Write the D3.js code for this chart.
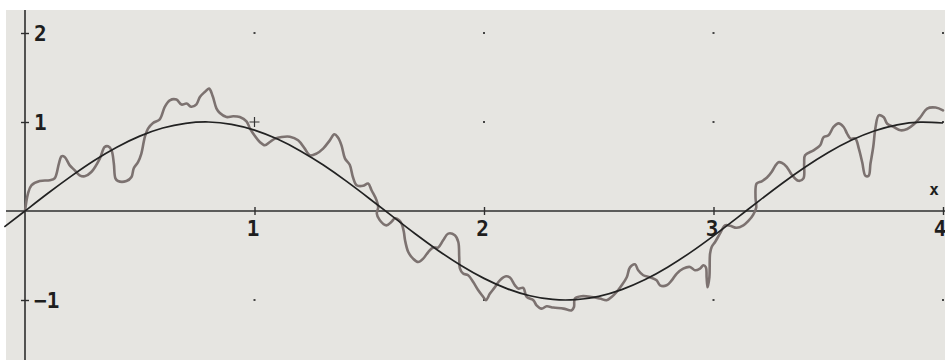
<!DOCTYPE html>
<html>
<head>
<meta charset="utf-8">
<script src="https://cdn.jsdelivr.net/npm/d3@7"></script>
<style>
  html, body { margin: 0; padding: 0; background: #ffffff; }
  svg { display: block; }
</style>
</head>
<body>
<svg id="chart" width="945" height="360"></svg>
<script>
// Measured trace (x, y) — a noisy path that wanders around the wave
const noiseX = [0, 0.013, 0.028, 0.064, 0.108, 0.129, 0.148, 0.159, 0.173, 0.195, 0.217, 0.238, 0.260, 0.289, 0.326, 0.347, 0.362, 0.377, 0.387, 0.394, 0.405, 0.442, 0.464, 0.474, 0.493, 0.507, 0.522, 0.536, 0.558, 0.587, 0.609, 0.631, 0.660, 0.682, 0.704, 0.725, 0.747, 0.762, 0.783, 0.802, 0.818, 0.834, 0.849, 0.878, 0.907, 0.936, 0.965, 0.980, 1.001, 1.023, 1.045, 1.067, 1.089, 1.118, 1.154, 1.190, 1.219, 1.241, 1.270, 1.299, 1.328, 1.348, 1.363, 1.379, 1.394, 1.415, 1.429, 1.445, 1.473, 1.495, 1.510, 1.532, 1.539, 1.533, 1.546, 1.575, 1.597, 1.612, 1.630, 1.642, 1.651, 1.656, 1.670, 1.691, 1.713, 1.735, 1.757, 1.779, 1.800, 1.822, 1.844, 1.873, 1.888, 1.892, 1.895, 1.909, 1.931, 1.953, 1.975, 1.997, 2.008, 2.026, 2.048, 2.069, 2.096, 2.113, 2.135, 2.149, 2.171, 2.186, 2.215, 2.229, 2.251, 2.273, 2.302, 2.346, 2.382, 2.392, 2.396, 2.425, 2.469, 2.505, 2.534, 2.556, 2.578, 2.600, 2.622, 2.636, 2.658, 2.672, 2.694, 2.723, 2.752, 2.767, 2.796, 2.818, 2.840, 2.868, 2.898, 2.919, 2.941, 2.956, 2.967, 2.970, 2.974, 2.982, 2.985, 2.992, 3.007, 3.028, 3.050, 3.072, 3.101, 3.130, 3.152, 3.174, 3.186, 3.183, 3.188, 3.210, 3.232, 3.254, 3.268, 3.283, 3.297, 3.319, 3.341, 3.370, 3.392, 3.395, 3.399, 3.436, 3.465, 3.479, 3.501, 3.523, 3.545, 3.567, 3.582, 3.597, 3.618, 3.633, 3.648, 3.662, 3.676, 3.684, 3.696, 3.706, 3.720, 3.742, 3.757, 3.786, 3.815, 3.844, 3.873, 3.902, 3.931, 3.968, 4.000];
const noiseY = [0, 0.196, 0.289, 0.337, 0.345, 0.367, 0.536, 0.615, 0.607, 0.513, 0.457, 0.401, 0.390, 0.438, 0.589, 0.719, 0.727, 0.682, 0.536, 0.367, 0.337, 0.337, 0.382, 0.480, 0.551, 0.645, 0.831, 0.926, 0.989, 1.030, 1.169, 1.244, 1.252, 1.196, 1.207, 1.171, 1.199, 1.281, 1.337, 1.375, 1.289, 1.154, 1.101, 1.056, 1.064, 1.056, 1.008, 0.929, 0.845, 0.775, 0.738, 0.775, 0.813, 0.831, 0.834, 0.794, 0.701, 0.626, 0.645, 0.701, 0.794, 0.862, 0.828, 0.738, 0.592, 0.519, 0.379, 0.289, 0.283, 0.308, 0.233, 0.120, 0.042, -0.029, -0.104, -0.161, -0.121, -0.082, -0.104, -0.149, -0.239, -0.329, -0.461, -0.535, -0.573, -0.535, -0.461, -0.411, -0.411, -0.329, -0.254, -0.273, -0.348, -0.517, -0.644, -0.703, -0.722, -0.798, -0.891, -0.966, -1.003, -0.928, -0.854, -0.779, -0.734, -0.748, -0.835, -0.872, -0.863, -0.966, -1.003, -1.060, -1.097, -1.071, -1.085, -1.097, -1.116, -1.079, -0.984, -0.958, -0.966, -0.984, -1.003, -0.966, -0.910, -0.835, -0.745, -0.633, -0.599, -0.666, -0.722, -0.745, -0.779, -0.835, -0.835, -0.779, -0.703, -0.647, -0.629, -0.666, -0.647, -0.610, -0.633, -0.745, -0.857, -0.745, -0.479, -0.404, -0.348, -0.254, -0.161, -0.166, -0.189, -0.161, -0.112, -0.037, 0.036, 0.157, 0.308, 0.334, 0.373, 0.440, 0.502, 0.547, 0.542, 0.497, 0.407, 0.339, 0.367, 0.533, 0.626, 0.682, 0.738, 0.828, 0.851, 0.944, 0.985, 0.944, 0.870, 0.813, 0.813, 0.704, 0.547, 0.396, 0.396, 0.533, 0.719, 0.940, 1.075, 1.053, 0.980, 0.944, 0.907, 0.921, 0.974, 1.056, 1.151, 1.162, 1.131];

// Smooth wave, sampled every 0.1
const waveX = [-0.09, 0, 0.1, 0.2, 0.3, 0.4, 0.5, 0.6, 0.7, 0.8, 0.9, 1.0, 1.1, 1.2, 1.3, 1.4, 1.5, 1.6, 1.7, 1.8, 1.9, 2.0, 2.1, 2.2, 2.3, 2.4, 2.5, 2.6, 2.7, 2.8, 2.9, 3.0, 3.1, 3.2, 3.3, 3.4, 3.5, 3.6, 3.7, 3.8, 3.9, 4.0];
const waveY = [-0.179, 0, 0.199, 0.389, 0.565, 0.717, 0.841, 0.932, 0.985, 1.000, 0.974, 0.909, 0.808, 0.675, 0.516, 0.335, 0.141, -0.058, -0.256, -0.443, -0.612, -0.757, -0.872, -0.952, -0.994, -0.996, -0.959, -0.883, -0.773, -0.631, -0.465, -0.279, -0.083, 0.117, 0.312, 0.494, 0.657, 0.794, 0.899, 0.968, 0.999, 0.989];

// Axis ticks and labels
const xTicks = [1, 2, 3, 4];
const xTickLabels = ["1", "2", "3", "4"];
const yTicks = [2, 1, -1];
const yTickLabels = ["2", "1", "\u22121"];
const gridXs = [1, 2, 3, 4];
const gridYs = [2, 1, -1];
const cursorPoint = [1, 1];

const W = 945, H = 360;
const svg = d3.select("#chart");

const x = d3.scaleLinear().domain([0, 4]).range([25, 943]);
const y = d3.scaleLinear().domain([-1, 2]).range([300, 33]);

// plotting area background
svg.append("rect")
  .attr("x", 6).attr("y", 10)
  .attr("width", W - 6).attr("height", H - 10)
  .attr("fill", "#e6e5e1");

// grid dots
const dots = [];
gridXs.forEach(gx => gridYs.forEach(gy => {
  if (!(gx === cursorPoint[0] && gy === cursorPoint[1])) dots.push([gx, gy]);
}));
svg.append("g").selectAll("rect").data(dots).join("rect")
  .attr("x", d => x(d[0]) - 1).attr("y", d => y(d[1]) - 1)
  .attr("width", 2).attr("height", 2)
  .attr("fill", "#444");

// axes lines
const axisColor = "#2e2e2e";
svg.append("line")
  .attr("x1", 6).attr("x2", W).attr("y1", y(0)).attr("y2", y(0))
  .attr("stroke", axisColor).attr("stroke-width", 1.6);
svg.append("line")
  .attr("x1", x(0)).attr("x2", x(0)).attr("y1", 10).attr("y2", H)
  .attr("stroke", axisColor).attr("stroke-width", 1.6);

const labelFont = "'DejaVu Sans Mono', 'Liberation Mono', monospace";

// x axis ticks via d3.axisBottom, restyled to cross the line
const gx = svg.append("g")
  .attr("transform", `translate(0,${y(0)})`)
  .call(d3.axisBottom(x).tickValues(xTicks)
    .tickFormat((d, i) => xTickLabels[i]).tickSize(4).tickPadding(10));
gx.select(".domain").remove();
gx.selectAll(".tick line").attr("y1", -4).attr("y2", 4)
  .attr("stroke", axisColor).attr("stroke-width", 1.4);
gx.selectAll(".tick text")
  .attr("font-family", labelFont).attr("font-size", 21).attr("font-weight", "bold")
  .attr("fill", "#1e1e1e").attr("dx", -2).attr("dy", "0.5em");
// keep the last label inside the frame
gx.selectAll(".tick text").filter(d => d === xTicks[xTicks.length - 1])
  .attr("text-anchor", "end").attr("dx", 3);

// y axis ticks
const gy = svg.append("g")
  .attr("transform", `translate(${x(0)},0)`)
  .call(d3.axisRight(y).tickValues(yTicks)
    .tickFormat((d, i) => yTickLabels[i]).tickSize(4).tickPadding(5));
gy.select(".domain").remove();
gy.selectAll(".tick line").attr("x1", -4).attr("x2", 4)
  .attr("stroke", axisColor).attr("stroke-width", 1.4);
gy.selectAll(".tick text")
  .attr("font-family", labelFont).attr("font-size", 21).attr("font-weight", "bold")
  .attr("fill", "#1e1e1e").attr("dy", "0.36em");

// axis name
svg.append("text")
  .attr("x", 934).attr("y", 195)
  .attr("text-anchor", "middle")
  .attr("font-family", labelFont).attr("font-size", 16).attr("font-weight", "bold")
  .attr("fill", "#1e1e1e")
  .text("x");

// cursor cross
const cp = [x(cursorPoint[0]), y(cursorPoint[1])];
svg.append("path")
  .attr("d", `M${cp[0] - 5},${cp[1]}H${cp[0] + 5}M${cp[0]},${cp[1] - 5}V${cp[1] + 5}`)
  .attr("stroke", "#333").attr("stroke-width", 1.2).attr("fill", "none");

// noisy trace
const noisePts = noiseX.map((v, i) => [v, noiseY[i]]);
svg.append("path")
  .datum(noisePts)
  .attr("d", d3.line().x(d => x(d[0])).y(d => y(d[1])).curve(d3.curveCatmullRom.alpha(0.5)))
  .attr("fill", "none")
  .attr("stroke", "#7c7270")
  .attr("stroke-width", 2.6)
  .attr("stroke-linejoin", "round")
  .attr("stroke-linecap", "round");

// smooth wave
const wavePts = waveX.map((v, i) => [v, waveY[i]]);
svg.append("path")
  .datum(wavePts)
  .attr("d", d3.line().x(d => x(d[0])).y(d => y(d[1])).curve(d3.curveNatural))
  .attr("fill", "none")
  .attr("stroke", "#222222")
  .attr("stroke-width", 1.7);
</script>
</body>
</html>
